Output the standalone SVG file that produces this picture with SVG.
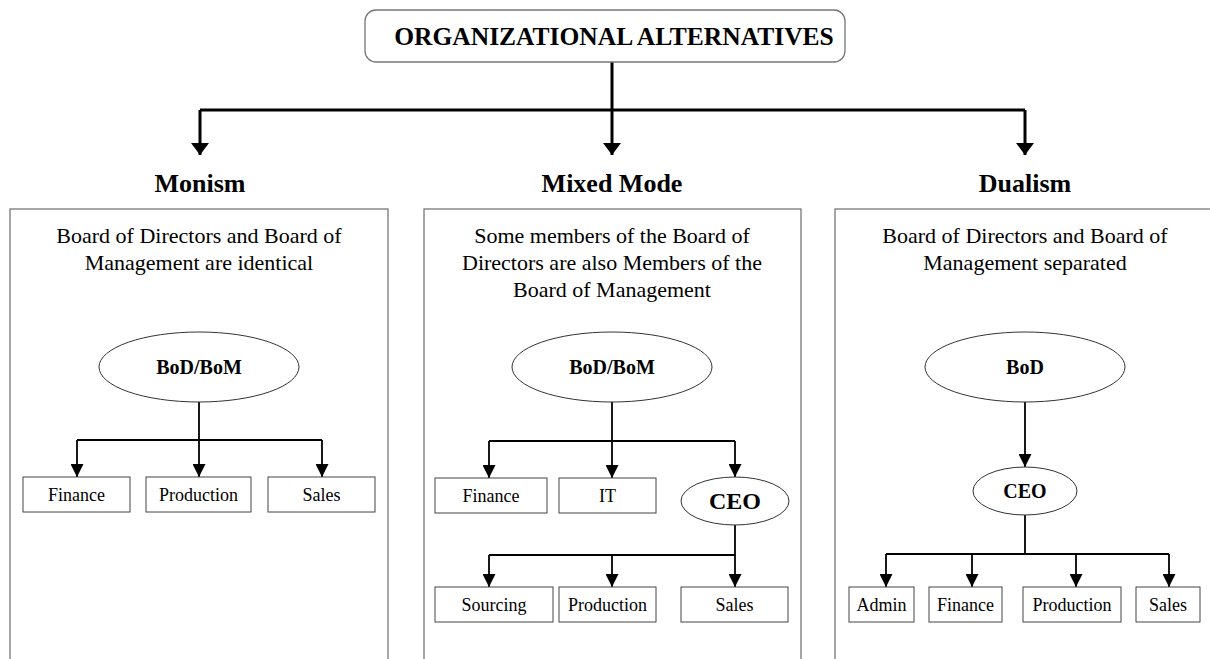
<svg xmlns="http://www.w3.org/2000/svg" width="1210" height="659" viewBox="0 0 1210 659">
  <style>
    text { font-family: "Liberation Serif", "Times New Roman", serif; fill: #000; text-anchor: middle; }
    .title { font-size: 25.5px; font-weight: bold; }
    .head { font-size: 26px; font-weight: bold; }
    .desc { font-size: 22px; }
    .lbl { font-size: 18px; }
    .oval { font-size: 20px; font-weight: bold; }
    .frame { fill: #fff; stroke: #777; stroke-width: 1.3; }
    .box { fill: #fff; stroke: #444; stroke-width: 1; }
    .ell { fill: #fff; stroke: #333; stroke-width: 1; }
    .main { fill: none; stroke: #000; stroke-width: 3; }
    .wire { fill: none; stroke: #000; stroke-width: 1.8; }
    .big { fill: none; stroke: #000; stroke-width: 3; marker-end: url(#headBig); }
    .arr { fill: none; stroke: #000; stroke-width: 1.8; marker-end: url(#head); }
  </style>
  <defs>
    <marker id="headBig" markerUnits="userSpaceOnUse" markerWidth="18" markerHeight="18" viewBox="0 0 12 18" refX="12" refY="9" orient="auto">
      <path d="M0,0 L12,9 L0,18 z" fill="#000"/>
    </marker>
    <marker id="head" markerUnits="userSpaceOnUse" markerWidth="13" markerHeight="13" viewBox="0 0 13 13" refX="13" refY="6.5" orient="auto">
      <path d="M0,0 L13,6.5 L0,13 z" fill="#000"/>
    </marker>
  </defs>

  <rect width="1210" height="659" fill="#fff"/>

  <!-- column frames -->
  <g id="frames">
    <rect class="frame" x="10" y="209" width="378" height="470"/>
    <rect class="frame" x="424" y="209" width="377" height="470"/>
    <rect class="frame" x="835" y="209" width="400" height="470"/>
  </g>

  <!-- connectors -->
  <g id="connectors">
    <path class="main" d="M612,62 V110 M200,110 H1025"/>
    <path class="big" d="M200,110 V155"/>
    <path class="big" d="M612,110 V155"/>
    <path class="big" d="M1025,110 V155"/>

    <!-- monism -->
    <path class="wire" d="M199,402 V440 M77,440 H322"/>
    <path class="arr" d="M77,440 V477"/>
    <path class="arr" d="M199,440 V477"/>
    <path class="arr" d="M322,440 V477"/>

    <!-- mixed mode -->
    <path class="wire" d="M612,402 V441 M489,441 H735"/>
    <path class="arr" d="M489,441 V478"/>
    <path class="arr" d="M612,441 V478"/>
    <path class="arr" d="M735,441 V477"/>
    <path class="wire" d="M735,525 V555 M489,555 H735"/>
    <path class="arr" d="M489,555 V587"/>
    <path class="arr" d="M612,555 V587"/>
    <path class="arr" d="M735,555 V587"/>

    <!-- dualism -->
    <path class="arr" d="M1025,402 V467"/>
    <path class="wire" d="M1025,515 V554 M886,554 H1169"/>
    <path class="arr" d="M886,554 V587"/>
    <path class="arr" d="M972,554 V587"/>
    <path class="arr" d="M1076,554 V587"/>
    <path class="arr" d="M1169,554 V587"/>
  </g>

  <g id="title">
    <rect x="365" y="10" width="480" height="52" rx="11" fill="#fff" stroke="#777" stroke-width="1.3"/>
    <text class="title" x="614" y="45">ORGANIZATIONAL ALTERNATIVES</text>
  </g>

  <g id="heading-monism"><text class="head" x="200" y="192">Monism</text></g>
  <g id="heading-mixed"><text class="head" x="612" y="192">Mixed Mode</text></g>
  <g id="heading-dualism"><text class="head" x="1025" y="192">Dualism</text></g>

  <!-- monism column -->
  <g id="monism-desc">
    <text class="desc" x="199" y="243">Board of Directors and Board of</text>
    <text class="desc" x="199" y="270">Management are identical</text>
  </g>
  <g id="monism-board">
    <ellipse class="ell" cx="199" cy="367" rx="100" ry="35"/>
    <text class="oval" x="199" y="374">BoD/BoM</text>
  </g>
  <g id="monism-finance">
    <rect class="box" x="23" y="477" width="107" height="35"/>
    <text class="lbl" x="76.5" y="501">Finance</text>
  </g>
  <g id="monism-production">
    <rect class="box" x="146" y="477" width="105" height="35"/>
    <text class="lbl" x="198.5" y="501">Production</text>
  </g>
  <g id="monism-sales">
    <rect class="box" x="268" y="477" width="107" height="35"/>
    <text class="lbl" x="321.5" y="501">Sales</text>
  </g>

  <!-- mixed mode column -->
  <g id="mixed-desc">
    <text class="desc" x="612" y="243">Some members of the Board of</text>
    <text class="desc" x="612" y="270">Directors are also Members of the</text>
    <text class="desc" x="612" y="297">Board of Management</text>
  </g>
  <g id="mixed-board">
    <ellipse class="ell" cx="612" cy="367" rx="100" ry="35"/>
    <text class="oval" x="612" y="374">BoD/BoM</text>
  </g>
  <g id="mixed-finance">
    <rect class="box" x="435" y="478" width="112" height="35"/>
    <text class="lbl" x="491" y="502">Finance</text>
  </g>
  <g id="mixed-it">
    <rect class="box" x="559" y="478" width="97" height="35"/>
    <text class="lbl" x="607.5" y="502">IT</text>
  </g>
  <g id="mixed-ceo">
    <ellipse class="ell" cx="735" cy="501" rx="54" ry="24"/>
    <text class="oval" x="735" y="509" style="font-size:24px">CEO</text>
  </g>
  <g id="mixed-sourcing">
    <rect class="box" x="435" y="587" width="118" height="35"/>
    <text class="lbl" x="494" y="611">Sourcing</text>
  </g>
  <g id="mixed-production">
    <rect class="box" x="559" y="587" width="97" height="35"/>
    <text class="lbl" x="607.5" y="611">Production</text>
  </g>
  <g id="mixed-sales">
    <rect class="box" x="681" y="587" width="107" height="35"/>
    <text class="lbl" x="734.5" y="611">Sales</text>
  </g>

  <!-- dualism column -->
  <g id="dualism-desc">
    <text class="desc" x="1025" y="243">Board of Directors and Board of</text>
    <text class="desc" x="1025" y="270">Management separated</text>
  </g>
  <g id="dualism-bod">
    <ellipse class="ell" cx="1025" cy="367" rx="100" ry="35"/>
    <text class="oval" x="1025" y="374">BoD</text>
  </g>
  <g id="dualism-ceo">
    <ellipse class="ell" cx="1025" cy="491" rx="52" ry="24"/>
    <text class="oval" x="1025" y="498">CEO</text>
  </g>
  <g id="dualism-admin">
    <rect class="box" x="849" y="587" width="65" height="35"/>
    <text class="lbl" x="881.5" y="611">Admin</text>
  </g>
  <g id="dualism-finance">
    <rect class="box" x="929" y="587" width="73" height="35"/>
    <text class="lbl" x="965.5" y="611">Finance</text>
  </g>
  <g id="dualism-production">
    <rect class="box" x="1023" y="587" width="98" height="35"/>
    <text class="lbl" x="1072" y="611">Production</text>
  </g>
  <g id="dualism-sales">
    <rect class="box" x="1136" y="587" width="64" height="35"/>
    <text class="lbl" x="1168" y="611">Sales</text>
  </g>
</svg>
